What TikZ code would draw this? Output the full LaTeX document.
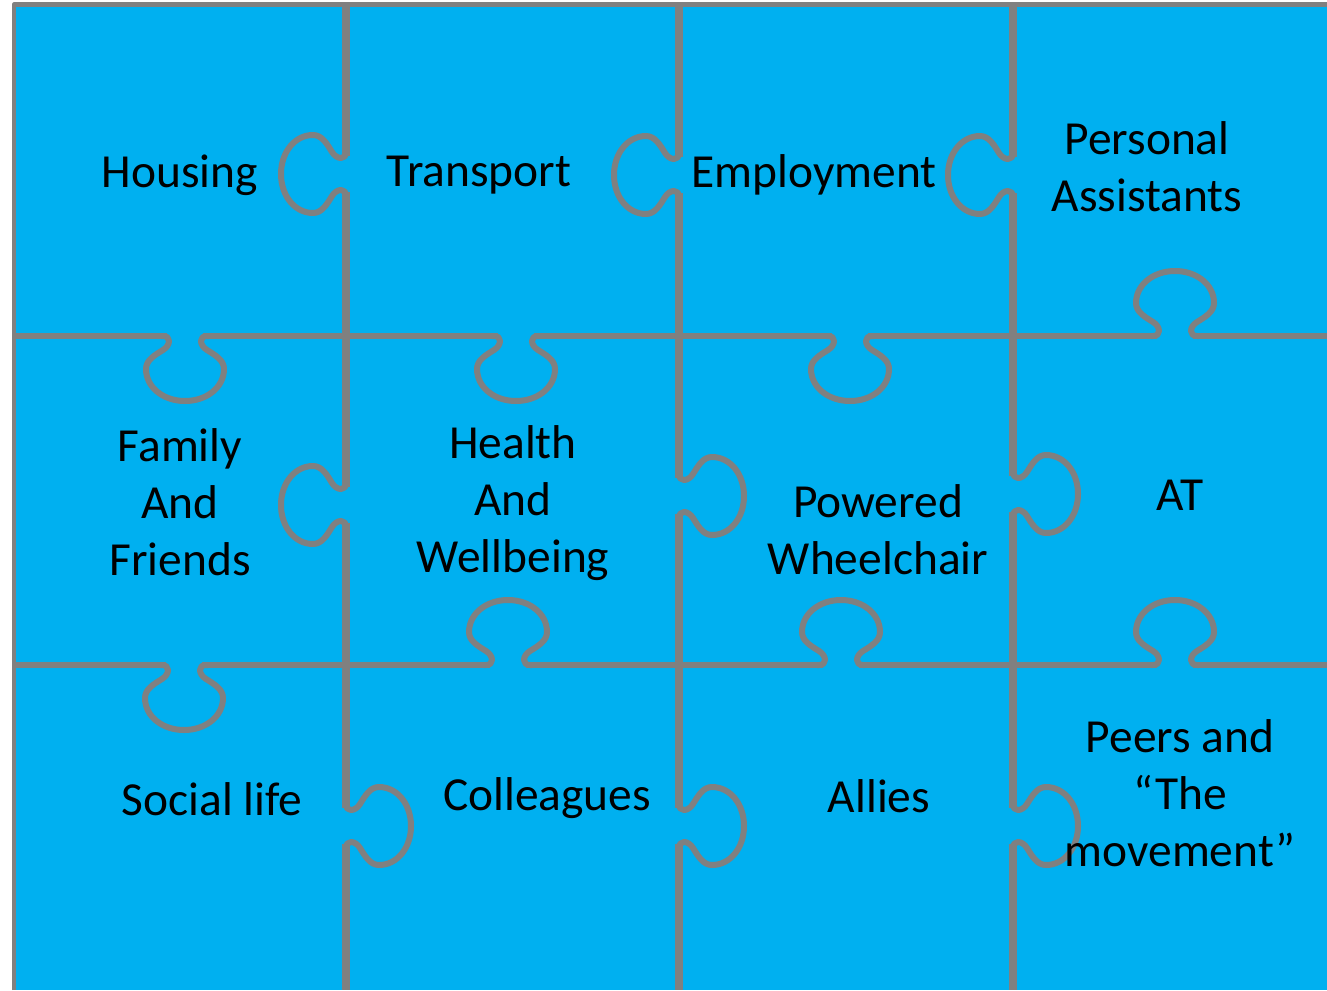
\documentclass[tikz,border=0pt]{standalone}
\usepackage{fontspec}
\setmainfont{Carlito}
\usepackage{tikz}
\definecolor{pieceblue}{HTML}{00B0F0}
\definecolor{linegray}{HTML}{808080}
\def\knob(#1,#2)(#3){\begin{scope}[shift={(#1,#2)},rotate=#3]
	\fill[gapfill] (-18,-5) rectangle (18,5);
	\draw[puzzleline] (-24,0) -- (-22,0) .. controls (-14,0) and (-14,9) .. (-22,14) .. controls (-30,19) and (-39,24) .. (-39,33) .. controls (-39,51) and (-22,65) .. (0,65) .. controls (22,65) and (39,51) .. (39,33) .. controls (39,24) and (30,19) .. (22,14) .. controls (14,9) and (14,0) .. (22,0) -- (24,0);
\end{scope}}

\begin{document}
\begin{tikzpicture}[x=0.02cm, y=-0.02cm,
		puzzleline/.style={line width=1.2mm, color=linegray, line join=round},
		gapfill/.style={fill=pieceblue},
		piecetext/.style={align=center, font=\fontsize{27}{32.4}\selectfont}]
			%%%%% START %%%%%
			
			\useasboundingbox (0,0) rectangle (1327,990);
			\fill[pieceblue] (14,5) rectangle (1327,990);
			
			\draw[puzzleline, line width=1mm] (14,990) -- (14,5) -- (1327,5);
			\draw[puzzleline, line width=1.5mm] (346,5) -- (346,990);
			\draw[puzzleline, line width=1.5mm] (679,5) -- (679,990);
			\draw[puzzleline, line width=1.5mm] (1013,5) -- (1013,990);
			\draw[puzzleline] (14,336) -- (1327,336);
			\draw[puzzleline] (14,665) -- (1327,665);
			
			\knob(346,174)(-90)
			\knob(679,175)(-90)
			\knob(1013,175)(-90)
			\knob(346,505)(-90)
			\knob(679,496)(90)
			\knob(1013,494)(90)
			\knob(346,826)(90)
			\knob(679,826)(90)
			\knob(1013,826)(90)
			
			\knob(185,336)(0)
			\knob(516,336)(0)
			\knob(850,336)(0)
			\knob(1175,336)(180)
			\knob(184,665)(0)
			\knob(508,665)(180)
			\knob(841,665)(180)
			\knob(1175,665)(180)
			
			\node[piecetext] (housing) at (180,175) {Housing};
			\node[piecetext] (transport) at (479,175) {Transport};
			\node[piecetext] (employment) at (814,175) {Employment};
			\node[piecetext] (assistants) at (1147,167) {Personal\\Assistants};
			\node[piecetext] (family) at (180,502) {Family\\And\\Friends};
			\node[piecetext] (health) at (513,503) {Health\\And\\Wellbeing};
			\node[piecetext] (wheelchair) at (878,530) {Powered\\Wheelchair};
			\node[piecetext] (atech) at (1180,495) {AT};
			\node[piecetext] (social) at (212,799) {Social life};
			\node[piecetext] (colleagues) at (547,798) {Colleagues};
			\node[piecetext] (allies) at (879,796) {Allies};
			\node[piecetext] (peers) at (1180,793) {Peers and\\“The\\movement”};
			
			%%%%% END %%%%%
\end{tikzpicture}
\end{document}
